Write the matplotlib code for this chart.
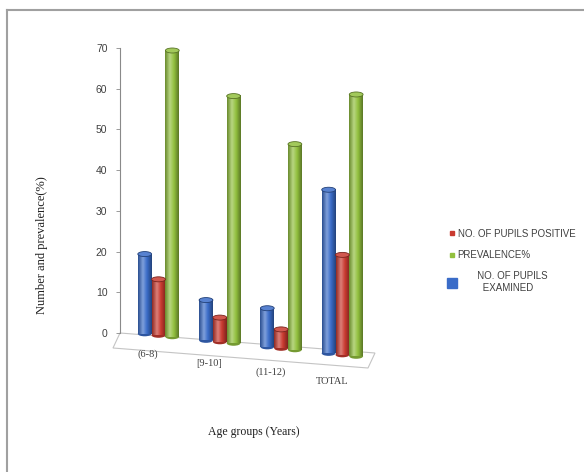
import numpy as np
import matplotlib
matplotlib.use("Agg")
import matplotlib.pyplot as plt
from matplotlib.colors import LinearSegmentedColormap, to_rgb
from matplotlib.patches import Ellipse, Polygon
from matplotlib.lines import Line2D

# ---------------- data ----------------
categories = ["(6-8)", "[9-10]", "(11-12)", "TOTAL"]
examined = [20.0, 8.7, 6.7, 35.8]
positive = [13.8, 4.4, 1.5, 19.8]
prevalence = [70.0, 58.8, 47.0, 59.2]
series_labels = ["NO. OF PUPILS\nEXAMINED", "NO. OF PUPILS POSITIVE", "PREVALENCE%"]
y_ticks = [0, 10, 20, 30, 40, 50, 60, 70]
y_label = "Number and prevalence(%)"
x_label = "Age groups (Years)"

# ---------------- figure / axes geometry ----------------
W, H, DPI = 584, 472, 100
fig = plt.figure(figsize=(W / DPI, H / DPI), dpi=DPI)
fig.patch.set_facecolor("white")

py_unit = (333 - 48) / 70.0      # px per data unit (y)
px_unit = 61.3                   # px per category unit (x)
x0_px = 158.5                    # px of first category centre
ylo, yhi = -10.0, 72.0
xlo = (120 - x0_px) / px_unit
xhi = 3.8
ax_top = 48 - (yhi - 70) * py_unit
ax_bot = 333 - ylo * py_unit
ax = fig.add_axes([120 / W, (H - ax_bot) / H,
                   (xhi - xlo) * px_unit / W, (ax_bot - ax_top) / H])
ax.set_xlim(xlo, xhi)
ax.set_ylim(ylo, yhi)
ax.set_autoscale_on(False)
ax.patch.set_alpha(0)

def px2data(xp, yp):
    return (xp - x0_px) / px_unit, (333 - yp) / py_unit

# floor (perspective decoration)
floor_px = [(120, 333), (375, 353), (368, 368), (113, 348)]
floor_pts = [px2data(*p) for p in floor_px]
ax.add_patch(Polygon(floor_pts, closed=True, facecolor="white",
                     edgecolor="#c4c4c4", lw=0.8, clip_on=False, zorder=1))

def floor_drop(p):
    return np.maximum(1.6 * (p + 0.35), 0.0)

x = np.arange(len(categories))
bw = 0.225
offsets = [-bw, 0.0, bw]
series = [examined, positive, prevalence]
colors = ["#3A6CC8", "#C93A30", "#92C03E"]
cap_h = 5.0 / py_unit

def shade(c, f):
    r = np.array(to_rgb(c))
    return tuple(np.clip(r * f, 0, 1))

def tint(c, f):
    r = np.array(to_rgb(c))
    return tuple(r + (1 - r) * f)

grad = np.linspace(0, 1, 64)[np.newaxis, :]
for vals, off, col in zip(series, offsets, colors):
    pos = x + off
    bottoms = -floor_drop(pos)
    heights = np.array(vals) - cap_h / 2 - bottoms
    bars = ax.bar(pos, heights, bottom=bottoms, width=bw, color=col,
                  edgecolor="none", zorder=3)
    cmap = LinearSegmentedColormap.from_list(
        "cyl", [(0, shade(col, 0.72)), (0.35, tint(col, 0.35)),
                (0.65, col), (1, shade(col, 0.62))])
    for b in bars:
        bx, by, bwid, bh = b.get_x(), b.get_y(), b.get_width(), b.get_height()
        ax.add_patch(Ellipse((bx + bwid / 2, by), bwid, cap_h,
                             facecolor=shade(col, 0.8), edgecolor="none", zorder=3))
        ax.imshow(grad, extent=(bx, bx + bwid, by, by + bh), aspect="auto",
                  cmap=cmap, zorder=3.5, interpolation="bilinear")
        ax.add_patch(Ellipse((bx + bwid / 2, by + bh), bwid, cap_h,
                             facecolor=tint(col, 0.15), edgecolor=shade(col, 0.6),
                             lw=0.6, zorder=4))
ax.set_xlim(xlo, xhi)
ax.set_ylim(ylo, yhi)

# category labels along the sloping floor
for p, lab in zip(x, categories):
    ax.text(p - 0.17, -5.3 - 2.2 * p, lab, ha="center", va="center",
            fontsize=7.5, family="Liberation Serif", color="#404040",
            clip_on=False)

# axes styling
for s in ["top", "right", "bottom"]:
    ax.spines[s].set_visible(False)
ax.spines["left"].set_bounds(0, 70)
ax.spines["left"].set_color("#8a8a8a")
ax.spines["left"].set_linewidth(0.8)
ax.set_xticks([])
ax.set_yticks(y_ticks)
ax.tick_params(axis="y", length=3, width=0.6, color="#8a8a8a", pad=6,
               labelsize=7.5, labelcolor="#404040")
for t in ax.get_yticklabels():
    t.set_family("Liberation Sans")

# axis titles
fig.text(42 / W, 1 - 245 / H, y_label, rotation=90, ha="center", va="center",
         fontsize=9, family="Liberation Serif", color="#202020")
fig.text(254 / W, 1 - 432 / H, x_label, ha="center", va="center",
         fontsize=8.5, family="Liberation Serif", color="#202020")

# legend
handles = [
    Line2D([], [], ls="", marker="s", markersize=3.4, color=colors[1]),
    Line2D([], [], ls="", marker="s", markersize=3.4, color=colors[2]),
    Line2D([], [], ls="", marker="s", markersize=6.5, color=colors[0]),
]
leg_labels = [series_labels[1], series_labels[2],
              "       " + series_labels[0].replace("\n", "\n         ")]
leg = fig.legend(handles, leg_labels, loc="upper left",
                 bbox_to_anchor=(444 / W, 1 - 224 / H), frameon=False,
                 handlelength=0.6, handletextpad=0.3, labelspacing=1.15,
                 borderpad=0, prop={"family": "Liberation Sans", "size": 7})
for t in leg.get_texts():
    t.set_color("#404040")

# border of the picture
fig.add_artist(Line2D([7 / W, 7 / W], [0, 1 - 10 / H], color="#a0a0a0", lw=1.5))
fig.add_artist(Line2D([7 / W, 1], [1 - 10 / H, 1 - 10 / H], color="#a0a0a0", lw=1.5))

fig.savefig("out.png", dpi=DPI, facecolor="white")
